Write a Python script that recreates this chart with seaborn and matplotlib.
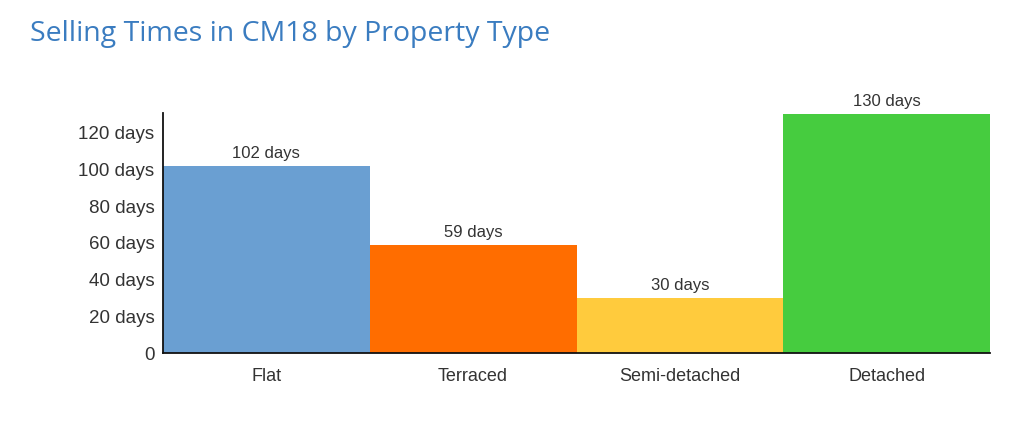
import matplotlib
matplotlib.use("Agg")
import matplotlib.pyplot as plt
import pandas as pd
import seaborn as sns

PROPERTY_TYPES = ["Flat", "Terraced", "Semi-detached", "Detached"]
SELLING_DAYS = [102, 59, 30, 130]
BAR_COLORS = ["#6a9fd2", "#ff6d00", "#ffcb3d", "#46cc3f"]
Y_TICKS = [0, 20, 40, 60, 80, 100, 120]
Y_TICK_LABELS = ["0", "20 days", "40 days", "60 days", "80 days", "100 days", "120 days"]


def main() -> None:
    data = pd.DataFrame({"type": PROPERTY_TYPES, "days": SELLING_DAYS})

    sns.set_theme(style="white")
    plt.rcParams["font.family"] = ["Liberation Sans", "DejaVu Sans"]

    fig = plt.figure(figsize=(10.24, 4.22), dpi=100)
    ax = fig.add_axes([0.159, 0.163, 0.808, 0.569])
    sns.barplot(data=data, x="type", y="days", hue="type", palette=BAR_COLORS,
                width=1.0, legend=False, ax=ax, saturation=1, linewidth=0)

    for i, v in enumerate(SELLING_DAYS):
        ax.text(i, v + 2.5, f"{v} days", ha="center", va="bottom", fontsize=12, color="#333333")

    ax.set_xlim(-0.5, 3.5)
    ax.set_ylim(0, 130.5)
    ax.set_yticks(Y_TICKS)
    ax.set_yticklabels(Y_TICK_LABELS)
    ax.set_xlabel("")
    ax.set_ylabel("")
    ax.tick_params(axis="both", colors="#333333", length=0)
    ax.tick_params(axis="x", pad=11, labelsize=13)
    ax.tick_params(axis="y", pad=6, labelsize=13.5)
    for side in ["top", "right"]:
        ax.spines[side].set_visible(False)
    for side in ["left", "bottom"]:
        ax.spines[side].set_color("#111111")
        ax.spines[side].set_linewidth(1.3)

    fig.text(0.029, 0.92, "Selling Times in CM18 by Property Type", fontsize=20.5,
             fontweight="medium", color="#3a7cc0", family=["Open Sans", "DejaVu Sans"],
             va="center", ha="left")

    fig.savefig("out.png", dpi=100)
    plt.close(fig)


if __name__ == "__main__":
    main()
